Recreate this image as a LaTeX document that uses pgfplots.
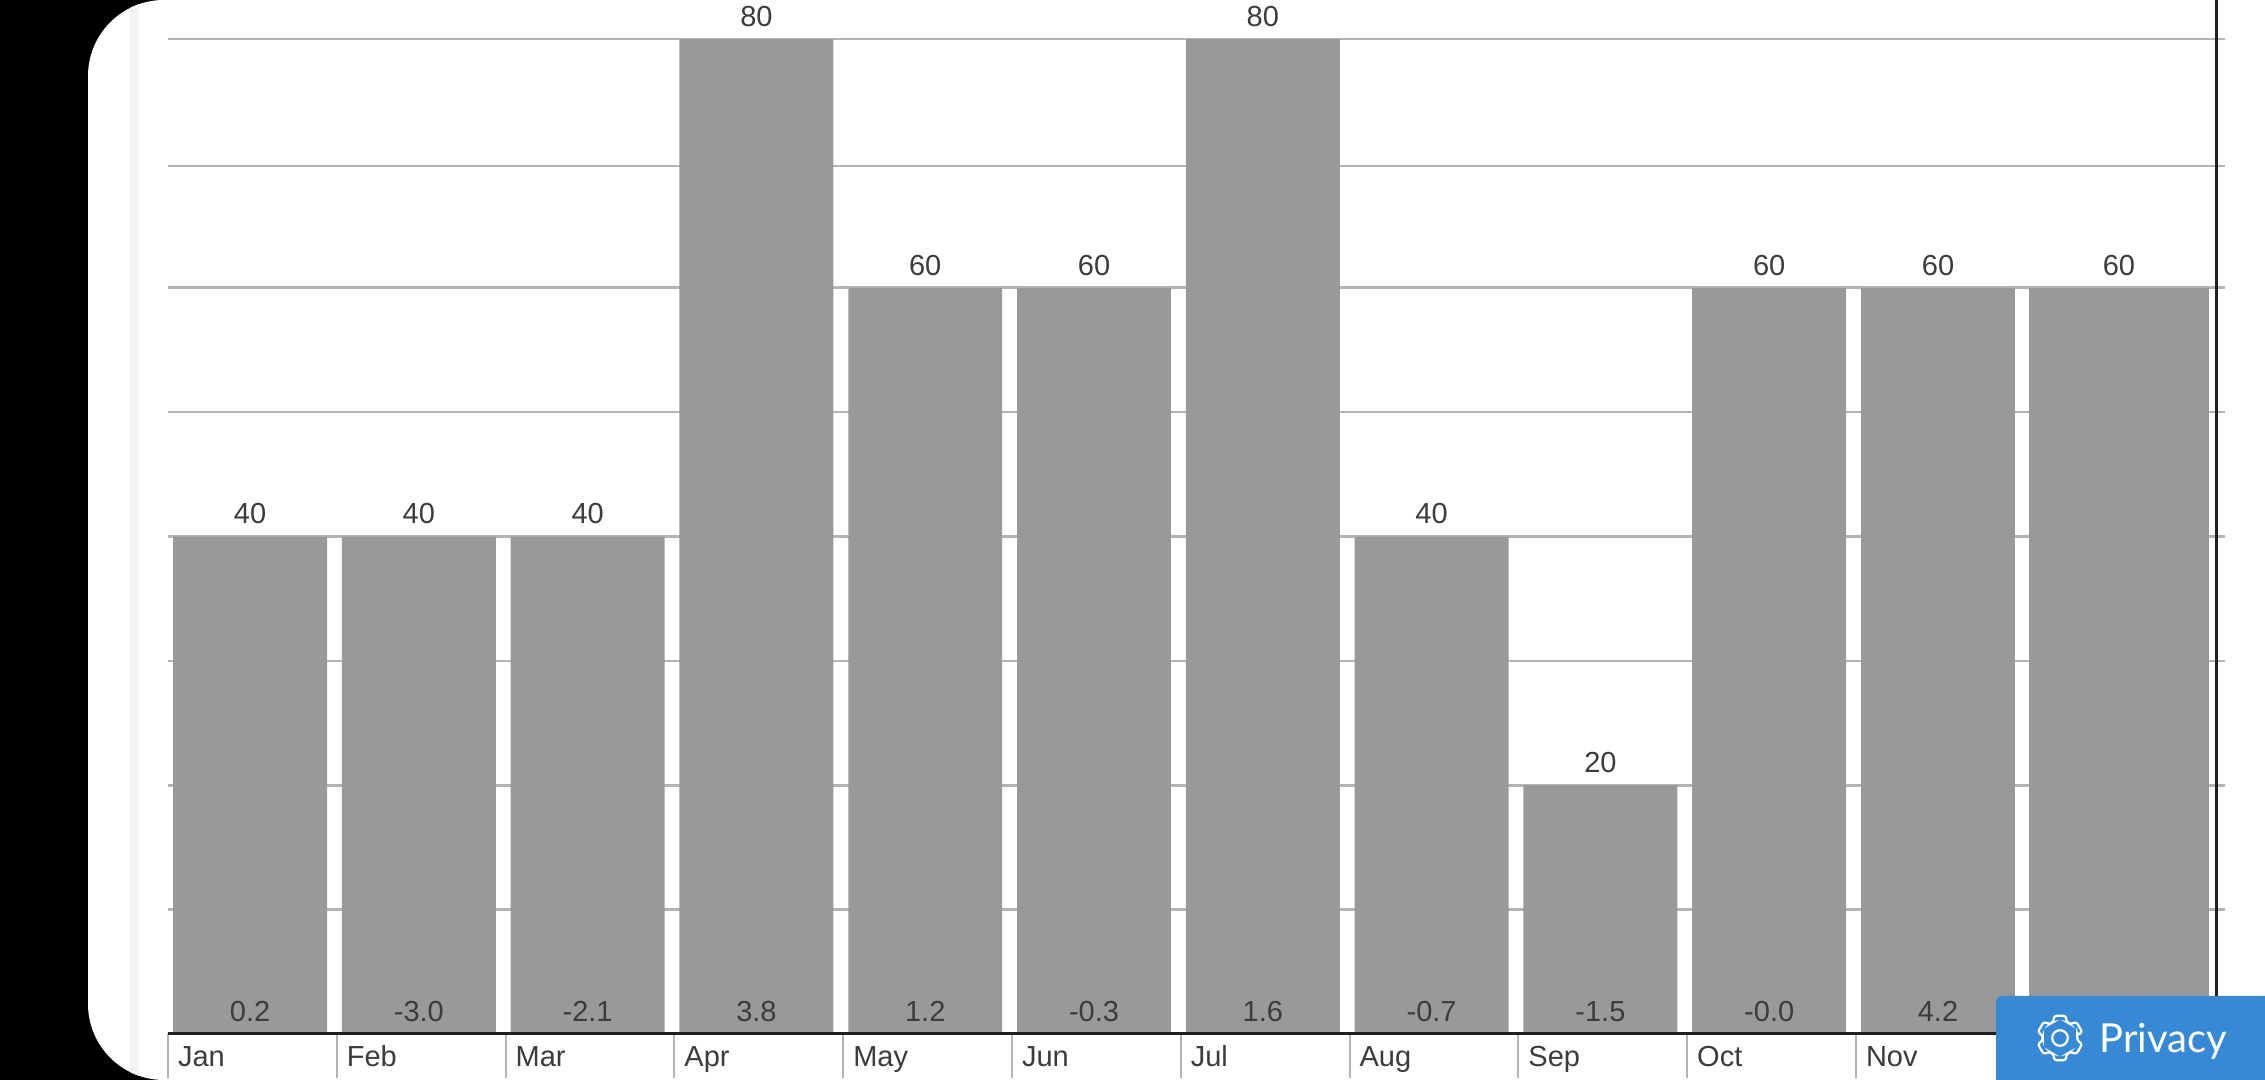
\documentclass[border=0pt]{standalone}
\usepackage{pgfplots}
\usepackage{pgfplotstable}
\usepackage{fontspec}
\pgfplotsset{compat=1.18}
\setmainfont{Liberation Sans}
\newfontfamily\btnfont{Lato}
\definecolor{barc}{HTML}{999999}
\definecolor{gridc}{HTML}{B4B4B4}
\definecolor{txtc}{HTML}{3C3C3C}
\definecolor{btn}{HTML}{3789D6}
\definecolor{strip}{HTML}{F3F3F3}
\pgfplotstableread{
x     y
0.486 40
1.486 40
2.486 40
3.486 80
4.486 60
5.486 60
6.486 80
7.486 40
8.486 20
9.486 60
10.486 60
}\mainbars
\pgfplotstableread{
x      y
11.558 60
}\decbar
\pgfplotstableread{
x     y anom
0.486 0 0.2
1.486 0 -3.0
2.486 0 -2.1
3.486 0 3.8
4.486 0 1.2
5.486 0 -0.3
6.486 0 1.6
7.486 0 -0.7
8.486 0 -1.5
9.486 0 -0.0
10.486 0 4.2
}\anoms
\begin{document}
\begin{tikzpicture}[x=1pt,y=1pt]
\path[use as bounding box] (0,0) rectangle (1132.5,540);
\fill[black] (0,0) rectangle (1132.5,540);
\begin{scope}
\clip[rounded corners=38pt] (44,0) -- (44,540) -- (1180,540) -- (1180,0) -- cycle;
\fill[white] (44,0) rectangle (1132.5,540);
\fill[strip] (65,0) rectangle (69.5,540);
\end{scope}
\begin{axis}[
  at={(84pt,23pt)},anchor=south west,
  scale only axis,width=1024pt,height=517pt,
  xmin=0,xmax=12.133,ymin=0,ymax=83.14,
  clip=false,
  axis x line*=bottom,axis y line*=right,
  axis line style={-,line width=1.5pt,color=black!88},
  tick align=outside,
  ytick={10,20,30,40,50,60,69.8,80},yticklabels={},
  xtick={0,...,10},
  xticklabels={Jan,Feb,Mar,Apr,May,Jun,Jul,Aug,Sep,Oct,Nov},
  minor xtick={0,...,10},
  major tick length=4.7pt,minor tick length=22pt,
  major x tick style={draw=none},
  minor x tick style={color=gridc,line width=1pt},
  y tick style={color=gridc,line width=1.3pt},
  ymajorgrids,major grid style={color=gridc,line width=1.3pt},
  x tick label style={anchor=base west,xshift=1.5pt,yshift=-11.7pt,font=\fontsize{14.5}{16}\selectfont,text=txtc},
]
\addplot[ybar,bar width=0.912,bar shift=0pt,fill=barc,draw=none,
  nodes near coords,
  every node near coord/.style={anchor=south,font=\fontsize{14.5}{16}\selectfont,text=txtc,yshift=2.6pt},
  nodes near coords style={/pgf/number format/assume math mode=true}]
  table[x=x,y=y]{\mainbars};
\addplot[ybar,bar width=1.066,bar shift=0pt,fill=barc,draw=none,
  nodes near coords,
  every node near coord/.style={anchor=south,font=\fontsize{14.5}{16}\selectfont,text=txtc,yshift=2.6pt},
  nodes near coords style={/pgf/number format/assume math mode=true}]
  table[x=x,y=y]{\decbar};
\addplot[only marks,mark=none,
  point meta=explicit symbolic,
  nodes near coords,
  every node near coord/.style={anchor=base,font=\fontsize{14.5}{16}\selectfont,text=txtc,yshift=6.1pt}]
  table[x=x,y=y,meta=anom]{\anoms};
\addplot[black!88,line width=1.5pt] coordinates {(0,0) (12.133,0)};
\end{axis}
\fill[btn,rounded corners=3pt] (998,-5) -- (998,42) -- (1140,42) -- (1140,-5) -- cycle;
\begin{scope}[shift={(1030,21)}]
\draw[white,line width=1.1pt,rounded corners=1.3pt] (8:8.7)
  \foreach \c in {30,90,...,330} { -- ({\c-22}:8.7) -- ({\c-15}:11.5) -- ({\c+15}:11.5) -- ({\c+22}:8.7) } -- cycle;
\draw[white,line width=1.1pt] (0,0) circle (3.9);
\end{scope}
\node[anchor=base west,inner sep=0pt,text=white,font=\btnfont\fontsize{20}{22}\selectfont] at (1049.5,13.5) {Privacy};
\end{tikzpicture}
\end{document}
